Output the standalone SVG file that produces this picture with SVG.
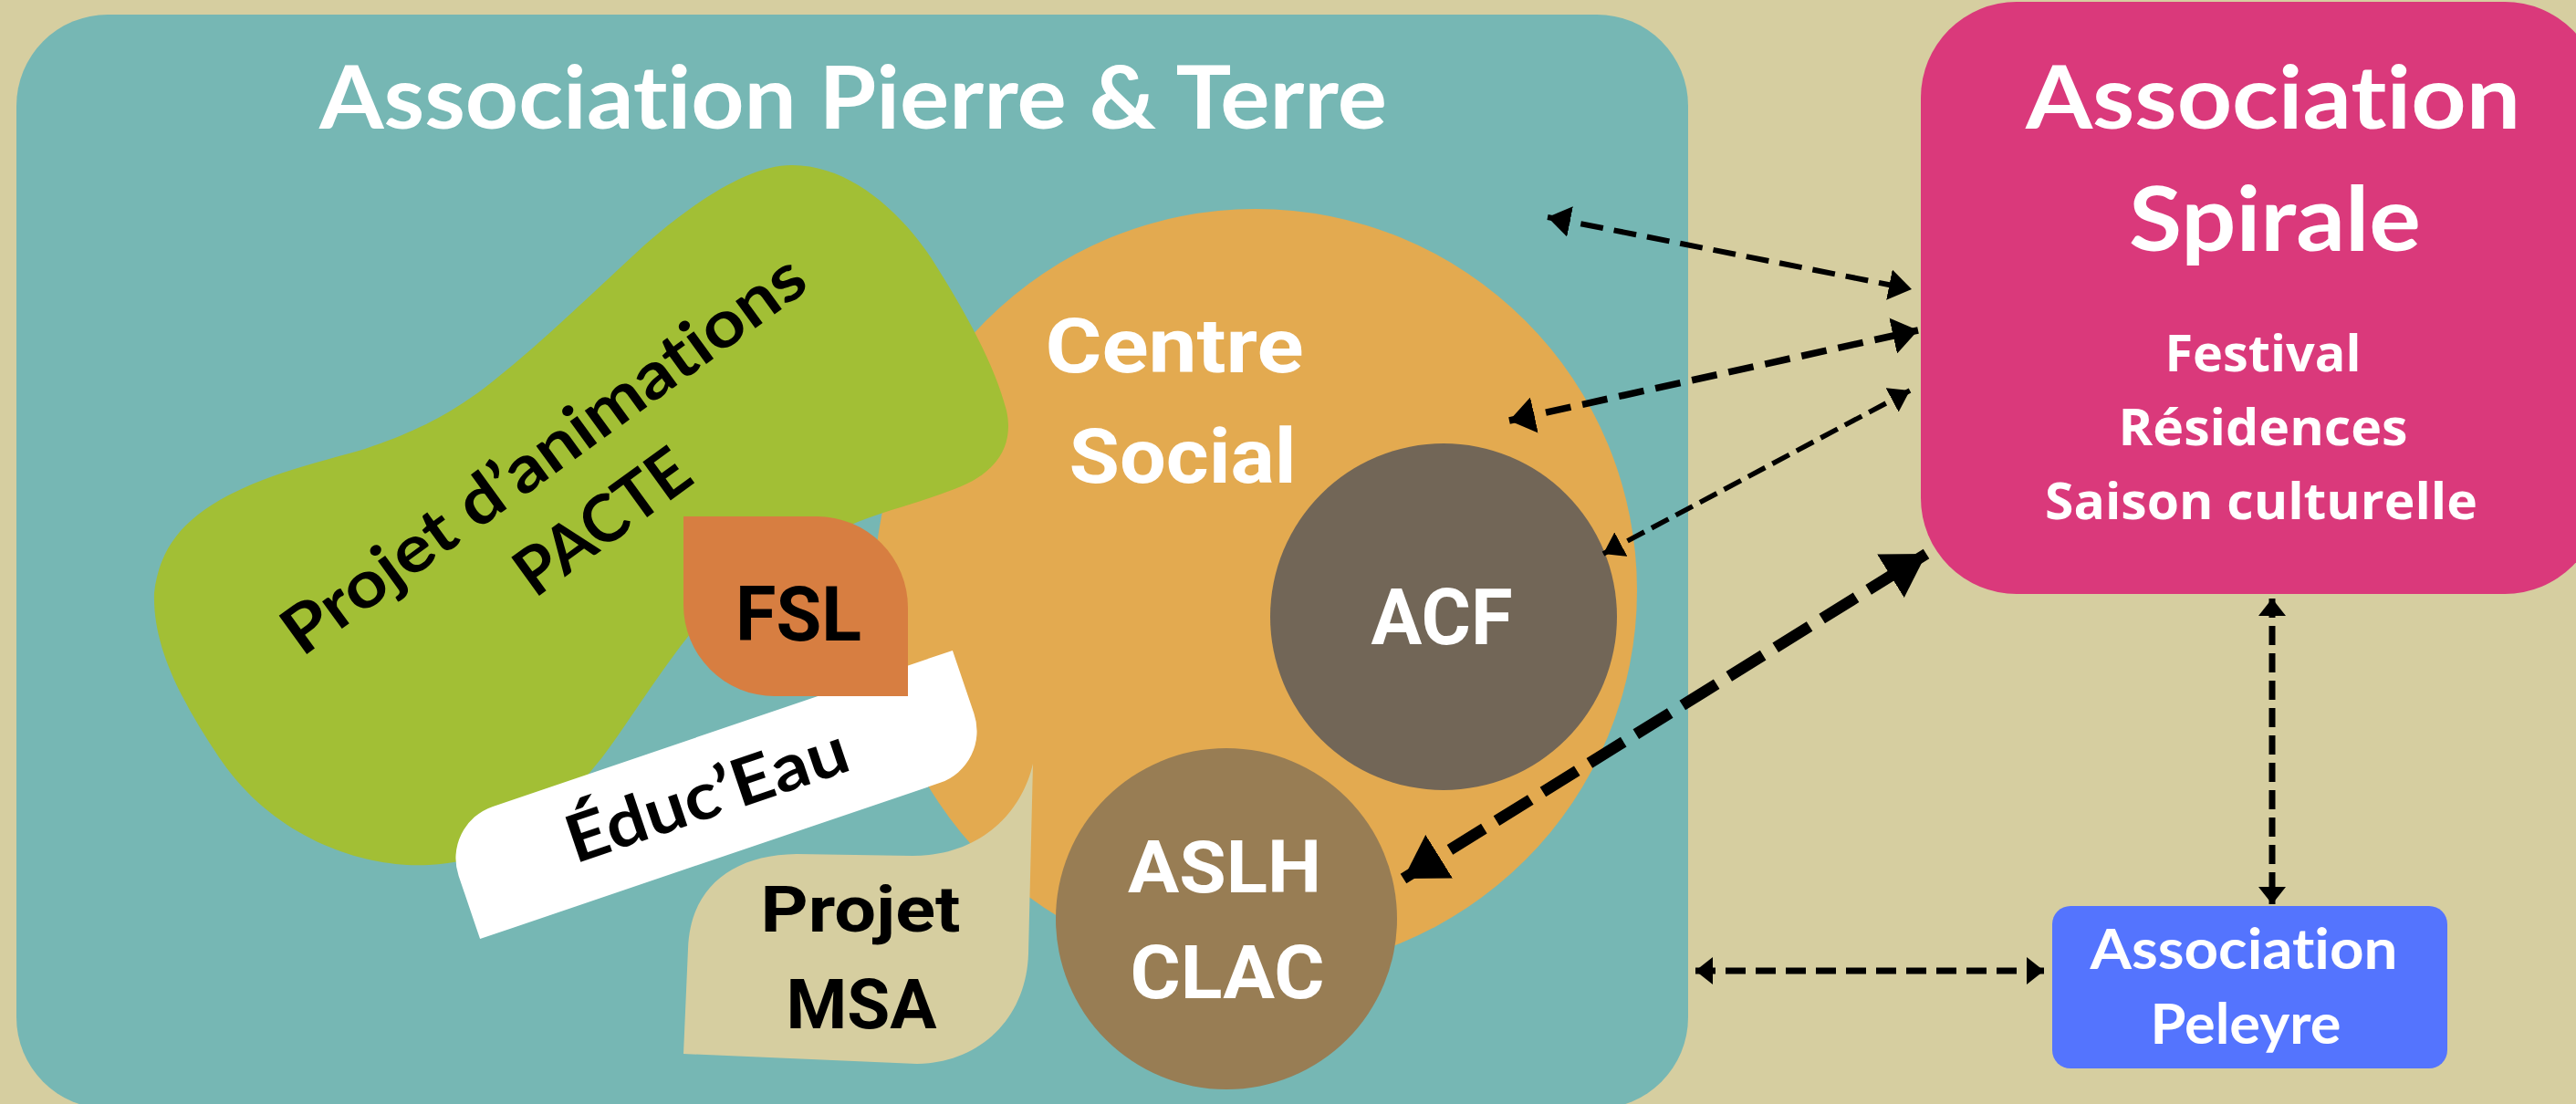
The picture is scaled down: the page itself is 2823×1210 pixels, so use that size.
<svg xmlns="http://www.w3.org/2000/svg" width="2823" height="1210" viewBox="0 0 2823 1210">
  <style>
    text { font-variant-ligatures: none; font-feature-settings: "liga" 0, "clig" 0; }
    .geo { font-family: Lato, "Open Sans", "Liberation Sans", sans-serif; font-weight: 700; }
    .cond { font-family: Roboto, "Liberation Sans", sans-serif; font-weight: 700; }
    .open { font-family: "Open Sans", "Noto Sans", "Liberation Sans", sans-serif; font-weight: 700; }
    .w { fill: #ffffff; }
    .k { fill: #000000; }
    .conn { fill: none; stroke: #000000; stroke-linecap: butt; }
  </style>
  <defs>
    <marker id="ah" markerUnits="userSpaceOnUse" viewBox="0 0 25 34" refX="25" refY="17" markerWidth="25" markerHeight="34" orient="auto-start-reverse">
      <path d="M0,0 L25,17 L0,34 Z" fill="#000"/>
    </marker>
    <marker id="ahm" markerUnits="userSpaceOnUse" viewBox="0 0 28 40" refX="28" refY="20" markerWidth="28" markerHeight="40" orient="auto-start-reverse">
      <path d="M0,0 L28,20 L0,40 Z" fill="#000"/>
    </marker>
    <marker id="ahs" markerUnits="userSpaceOnUse" viewBox="0 0 22 30" refX="22" refY="15" markerWidth="22" markerHeight="30" orient="auto-start-reverse">
      <path d="M0,0 L22,15 L0,30 Z" fill="#000"/>
    </marker>
    <marker id="ahl" markerUnits="userSpaceOnUse" viewBox="0 0 46 56" refX="46" refY="28" markerWidth="46" markerHeight="56" orient="auto-start-reverse">
      <path d="M0,0 L46,28 L0,56 Z" fill="#000"/>
    </marker>
    <marker id="aht" markerUnits="userSpaceOnUse" viewBox="0 0 19 30" refX="19" refY="15" markerWidth="19" markerHeight="30" orient="auto-start-reverse">
      <path d="M0,0 L19,15 L0,30 Z" fill="#000"/>
    </marker>
  </defs>

  <rect x="0" y="0" width="2823" height="1210" fill="#d6cea0"/>

  <g id="pierre-terre">
    <rect x="18" y="16" width="1832" height="1199" rx="100" ry="100" fill="#76b7b4"/>
    <text class="geo w" x="935" y="141" font-size="95" text-anchor="middle" textLength="1170" lengthAdjust="spacingAndGlyphs">Association Pierre &amp; Terre</text>
  </g>

  <g id="centre-social">
    <circle cx="1376" cy="647" r="418" fill="#e3aa50"/>
    <text class="cond w" x="1287" y="408" font-size="84" text-anchor="middle" textLength="283" lengthAdjust="spacingAndGlyphs">Centre</text>
    <text class="cond w" x="1296" y="529" font-size="84" text-anchor="middle" textLength="249" lengthAdjust="spacingAndGlyphs">Social</text>
  </g>

  <g id="pacte">
    <path d="M 169 650 C 175 600 200 570 250 543 C 300 518 330 512 400 492 C 460 472 500 450 540 418 C 600 370 650 320 707 268 C 760 222 820 181 868 181 C 930 181 985 230 1020 282 C 1060 345 1090 400 1103 450 C 1112 490 1090 520 1046 536 C 1010 550 970 560 940 572 L 900 590 L 760 690 C 720 740 690 790 660 830 C 620 880 560 945 470 948 C 400 952 300 920 240 830 C 200 770 167 710 169 650 Z" fill="#a2bf35"/>
    <g transform="translate(610,518) rotate(-36)">
      <text class="geo k" x="0" y="0" font-size="72" text-anchor="middle" textLength="690" lengthAdjust="spacingAndGlyphs">Projet d’animations</text>
      <text class="geo k" x="9" y="98" font-size="72" text-anchor="middle" textLength="219" lengthAdjust="spacingAndGlyphs">PACTE</text>
    </g>
  </g>

  <g id="educeau">
    <g transform="translate(785,871) rotate(-18.75)">
      <path d="M -236 -66.5 L 296 -66.5 L 296 6.5 A 60 60 0 0 1 236 66.5 L -296 66.5 L -296 -6.5 A 60 60 0 0 1 -236 -66.5 Z" fill="#ffffff"/>
      <text class="geo k" x="-10" y="22" font-size="72" text-anchor="middle" textLength="322" lengthAdjust="spacingAndGlyphs">Éduc’Eau</text>
    </g>
  </g>

  <g id="fsl">
    <path d="M 749 566 L 895 566 A 100 100 0 0 1 995 666 L 995 763 L 849 763 A 100 100 0 0 1 749 663 Z" fill="#d77e41"/>
    <text class="cond k" x="875" y="702" font-size="84" text-anchor="middle" textLength="138" lengthAdjust="spacingAndGlyphs">FSL</text>
  </g>

  <g id="msa">
    <path d="M 749 1155 L 754 1040 C 756 975 800 937 873 936 L 1000 938 C 1075 938 1120 890 1132 837 L 1127 1045 C 1125 1115 1075 1165 1005 1166 Z" fill="#d6cea0"/>
    <text class="cond k" x="943" y="1021" font-size="70" text-anchor="middle" textLength="219" lengthAdjust="spacingAndGlyphs">Projet</text>
    <text class="cond k" x="944" y="1127" font-size="76" text-anchor="middle" textLength="165" lengthAdjust="spacingAndGlyphs">MSA</text>
  </g>

  <g id="acf">
    <circle cx="1582" cy="676" r="190" fill="#726657"/>
    <text class="cond w" x="1580" y="706" font-size="86" text-anchor="middle" textLength="155" lengthAdjust="spacingAndGlyphs">ACF</text>
  </g>

  <g id="aslh-clac">
    <circle cx="1344" cy="1007" r="187" fill="#987d54"/>
    <text class="cond w" x="1342" y="978" font-size="80" text-anchor="middle" textLength="212" lengthAdjust="spacingAndGlyphs">ASLH</text>
    <text class="cond w" x="1345" y="1094" font-size="82" text-anchor="middle" textLength="213" lengthAdjust="spacingAndGlyphs">CLAC</text>
  </g>

  <g id="spirale">
    <rect x="2105" y="2" width="745" height="649" rx="105" ry="105" fill="#da397b"/>
    <text class="geo w" x="2491" y="141" font-size="95" text-anchor="middle" textLength="542" lengthAdjust="spacingAndGlyphs">Association</text>
    <text class="geo w" x="2493" y="275" font-size="97" text-anchor="middle" textLength="320" lengthAdjust="spacingAndGlyphs">Spirale</text>
    <text class="open w" x="2480" y="407" font-size="56" text-anchor="middle" textLength="215" lengthAdjust="spacingAndGlyphs">Festival</text>
    <text class="open w" x="2480" y="488" font-size="56" text-anchor="middle" textLength="317" lengthAdjust="spacingAndGlyphs">Résidences</text>
    <text class="open w" x="2478" y="569" font-size="56" text-anchor="middle" textLength="474" lengthAdjust="spacingAndGlyphs">Saison culturelle</text>
  </g>

  <g id="peleyre">
    <rect x="2249" y="993" width="433" height="178" rx="20" ry="20" fill="#5474fe"/>
    <text class="geo w" x="2459" y="1062" font-size="61" text-anchor="middle" textLength="337" lengthAdjust="spacingAndGlyphs">Association</text>
    <text class="geo w" x="2461" y="1144" font-size="61" text-anchor="middle" textLength="209" lengthAdjust="spacingAndGlyphs">Peleyre</text>
  </g>

  <g id="connectors">
    <line class="conn" x1="1696" y1="238" x2="2095" y2="317" stroke-width="6" stroke-dasharray="25 12" marker-start="url(#ah)" marker-end="url(#ah)"/>
    <line class="conn" x1="1654" y1="461" x2="2102" y2="362" stroke-width="7.5" stroke-dasharray="28 13" marker-start="url(#ahm)" marker-end="url(#ahm)"/>
    <line class="conn" x1="1757" y1="607" x2="2093" y2="428" stroke-width="5.5" stroke-dasharray="21 9" marker-start="url(#ahs)" marker-end="url(#ahs)"/>
    <line class="conn" x1="1538" y1="963" x2="2111" y2="607" stroke-width="12.5" stroke-dasharray="44 16" marker-start="url(#ahl)" marker-end="url(#ahl)"/>
    <line class="conn" x1="2490" y1="656" x2="2490" y2="991" stroke-width="7" stroke-dasharray="21 9" marker-start="url(#aht)" marker-end="url(#aht)"/>
    <line class="conn" x1="1858" y1="1064" x2="2240" y2="1064" stroke-width="7" stroke-dasharray="22 11" marker-start="url(#aht)" marker-end="url(#aht)"/>
  </g>
</svg>
